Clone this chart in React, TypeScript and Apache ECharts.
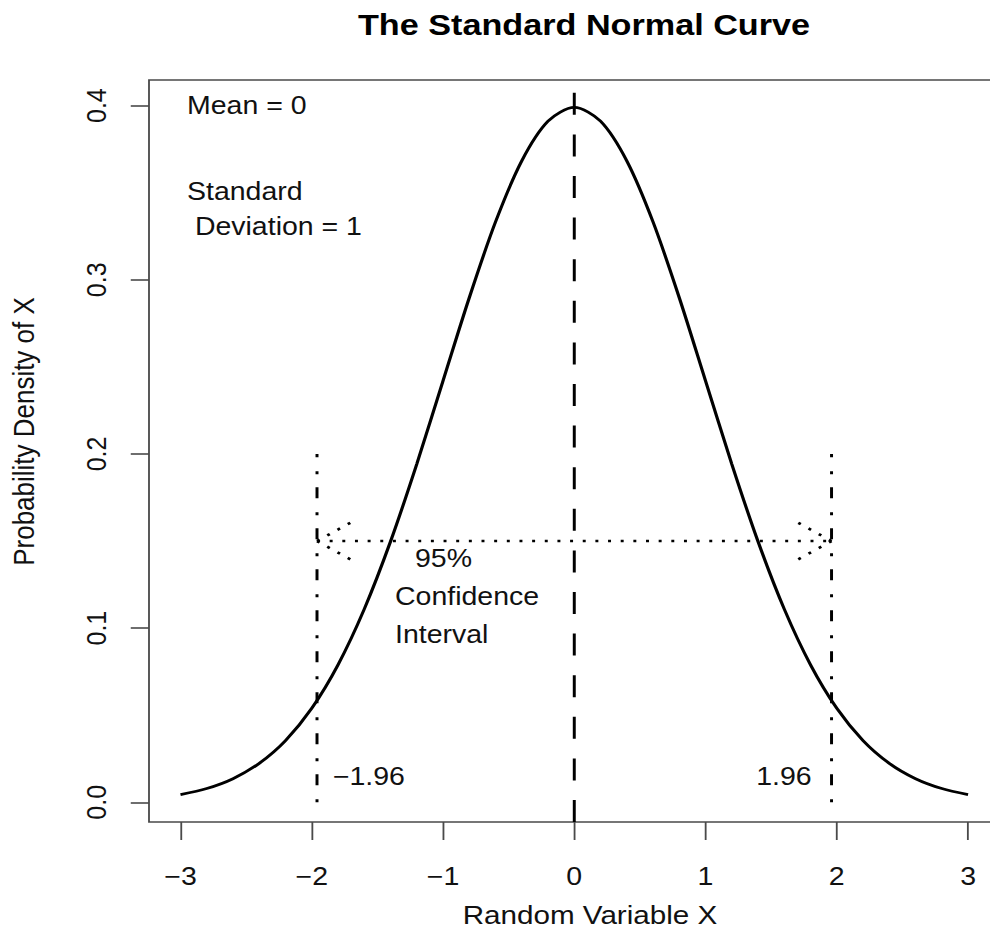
import React, { useEffect, useRef } from "react";
import * as echarts from "echarts";

// ---- data ----
const xValues = [
  -3, -2.8, -2.6, -2.4, -2.2, -2, -1.8, -1.6, -1.4, -1.2, -1, -0.8, -0.6, -0.4, -0.2, 0,
  0.2, 0.4, 0.6, 0.8, 1, 1.2, 1.4, 1.6, 1.8, 2, 2.2, 2.4, 2.6, 2.8, 3,
];
const densityValues = [
  0.00443, 0.00792, 0.01358, 0.02239, 0.03547, 0.05399, 0.07895, 0.11092, 0.14973, 0.19419,
  0.24197, 0.28969, 0.33322, 0.36827, 0.39104, 0.39894, 0.39104, 0.36827, 0.33322, 0.28969,
  0.24197, 0.19419, 0.14973, 0.11092, 0.07895, 0.05399, 0.03547, 0.02239, 0.01358, 0.00792,
  0.00443,
];
const xTicks = [-3, -2, -1, 0, 1, 2, 3];
const yTicks = [0, 0.1, 0.2, 0.3, 0.4];
const meanX = 0;
const ciBounds = [-1.96, 1.96];
const ciLineTop = 0.2;
const ciArrowY = 0.15;
const xRange = [-3.24, 3.24];
const yRange = [-0.0113, 0.4147];

// ---- layout ----
const SX = 1.14; // horizontal stretch of the reference image
const CHART_W = 885; // wider than the visible page: the plot box runs past the right edge
const CHART_H = 930;
const FONT = "'Liberation Sans', Arial, Helvetica, sans-serif";
const INK = "#111";

const fmtX = (v: number) => (v < 0 ? "\u2212" + Math.abs(v) : String(v));

export default function App() {
  const ref = useRef<HTMLDivElement | null>(null);

  useEffect(() => {
    if (!ref.current) return;
    const chart = echarts.init(ref.current, null, { renderer: "svg" });

    const curve = xValues.map((x, i) => [x, densityValues[i]]);

    const txt = (text: string, x: number, y: number, extra: any = {}) => ({
      type: "text",
      x,
      y,
      silent: true,
      style: {
        text,
        fill: INK,
        font: `25px ${FONT}`,
        align: "left",
        verticalAlign: "middle",
        ...extra,
      },
    });

    chart.setOption({
      animation: false,
      backgroundColor: "#fff",
      grid: {
        left: 130.7,
        top: 80,
        width: 746.1,
        height: 742,
        show: true,
        borderColor: "#4a4a4a",
        borderWidth: 1.6,
        backgroundColor: "transparent",
      },
      xAxis: {
        type: "value",
        min: xRange[0],
        max: xRange[1],
        splitLine: { show: false },
        axisLine: { show: false, onZero: false },
        axisTick: {
          show: true,
          inside: false,
          length: 18,
          customValues: xTicks,
          lineStyle: { color: "#4a4a4a", width: 1.6 },
        },
        axisLabel: {
          customValues: xTicks,
          formatter: fmtX,
          margin: 55,
          align: "center",
          verticalAlign: "middle",
          fontSize: 25,
          fontFamily: FONT,
          color: INK,
        },
      },
      yAxis: {
        type: "value",
        min: yRange[0],
        max: yRange[1],
        splitLine: { show: false },
        axisLine: { show: false, onZero: false },
        axisTick: {
          show: true,
          inside: false,
          length: 16,
          customValues: yTicks,
          lineStyle: { color: "#4a4a4a", width: 1.6 },
        },
        axisLabel: {
          customValues: yTicks,
          formatter: (v: number) => v.toFixed(1),
          rotate: 90,
          margin: 46,
          align: "center",
          verticalAlign: "middle",
          fontSize: 25,
          fontFamily: FONT,
          color: INK,
        },
      },
      series: [
        {
          type: "line",
          data: curve,
          smooth: 0.3,
          symbol: "none",
          silent: true,
          lineStyle: { color: "#000", width: 2.8 },
          z: 5,
        },
        {
          type: "line",
          data: [
            [meanX, yRange[0]],
            [meanX, yRange[1]],
          ],
          symbol: "none",
          silent: true,
          lineStyle: { color: "#000", width: 2.6, type: [22, 19.6], cap: "butt" },
        },
        ...ciBounds.map((b) => ({
          type: "line",
          data: [
            [b, 0],
            [b, ciLineTop],
          ],
          symbol: "none",
          silent: true,
          lineStyle: { color: "#000", width: 2.6, type: [3, 14, 11, 13], cap: "butt" },
        })),
        {
          type: "line",
          data: [
            [ciBounds[0], ciArrowY],
            [ciBounds[1], ciArrowY],
          ],
          symbol: "none",
          silent: true,
          lineStyle: { color: "#000", width: 2.6, type: [2.6, 8.5], cap: "butt" },
        },
        {
          type: "custom",
          silent: true,
          data: [
            [ciBounds[0], ciArrowY, 1],
            [ciBounds[1], ciArrowY, -1],
          ],
          renderItem: (params: any, api: any) => {
            const p = api.coord([api.value(0), api.value(1)]);
            const dir = api.value(2);
            const len = 41;
            const ang = (32 * Math.PI) / 180;
            const dx = len * Math.cos(ang) * dir;
            const dy = len * Math.sin(ang);
            const style = {
              stroke: "#000",
              lineWidth: 2.6,
              lineDash: [2.6, 8],
              fill: null,
            };
            return {
              type: "group",
              children: [
                { type: "line", shape: { x1: p[0], y1: p[1], x2: p[0] + dx, y2: p[1] - dy }, style },
                { type: "line", shape: { x1: p[0], y1: p[1], x2: p[0] + dx, y2: p[1] + dy }, style },
              ],
            };
          },
        },
      ],
      graphic: [
        txt("The Standard Normal Curve", 512.3, 25, {
          font: `bold 30px ${FONT}`,
          align: "center",
          fill: "#000",
        }),
        txt("Random Variable X", 517.5, 915, { font: `26px ${FONT}`, align: "center" }),
        {
          type: "text",
          x: 21,
          y: 431.5,
          rotation: Math.PI / 2,
          silent: true,
          style: {
            text: "Probability Density of X",
            fill: INK,
            font: `26px ${FONT}`,
            align: "center",
            verticalAlign: "middle",
          },
        },
        txt("Mean = 0", 164, 106),
        txt("Standard\n Deviation = 1", 164, 209.5, { lineHeight: 35 }),
        txt("95%", 364, 559),
        txt("Confidence\nInterval", 346.5, 616, { lineHeight: 38 }),
        txt("\u22121.96", 292, 777),
        txt("1.96", 712, 777, { align: "right" }),
      ],
    });

    return () => chart.dispose();
  }, []);

  return (
    <div
      style={{
        position: "fixed",
        left: 0,
        top: 0,
        width: 990,
        height: 930,
        overflow: "hidden",
        background: "#fff",
      }}
    >
      <div
        ref={ref}
        style={{
          width: CHART_W,
          height: CHART_H,
          transform: `scaleX(${SX})`,
          transformOrigin: "0 0",
        }}
      />
    </div>
  );
}
